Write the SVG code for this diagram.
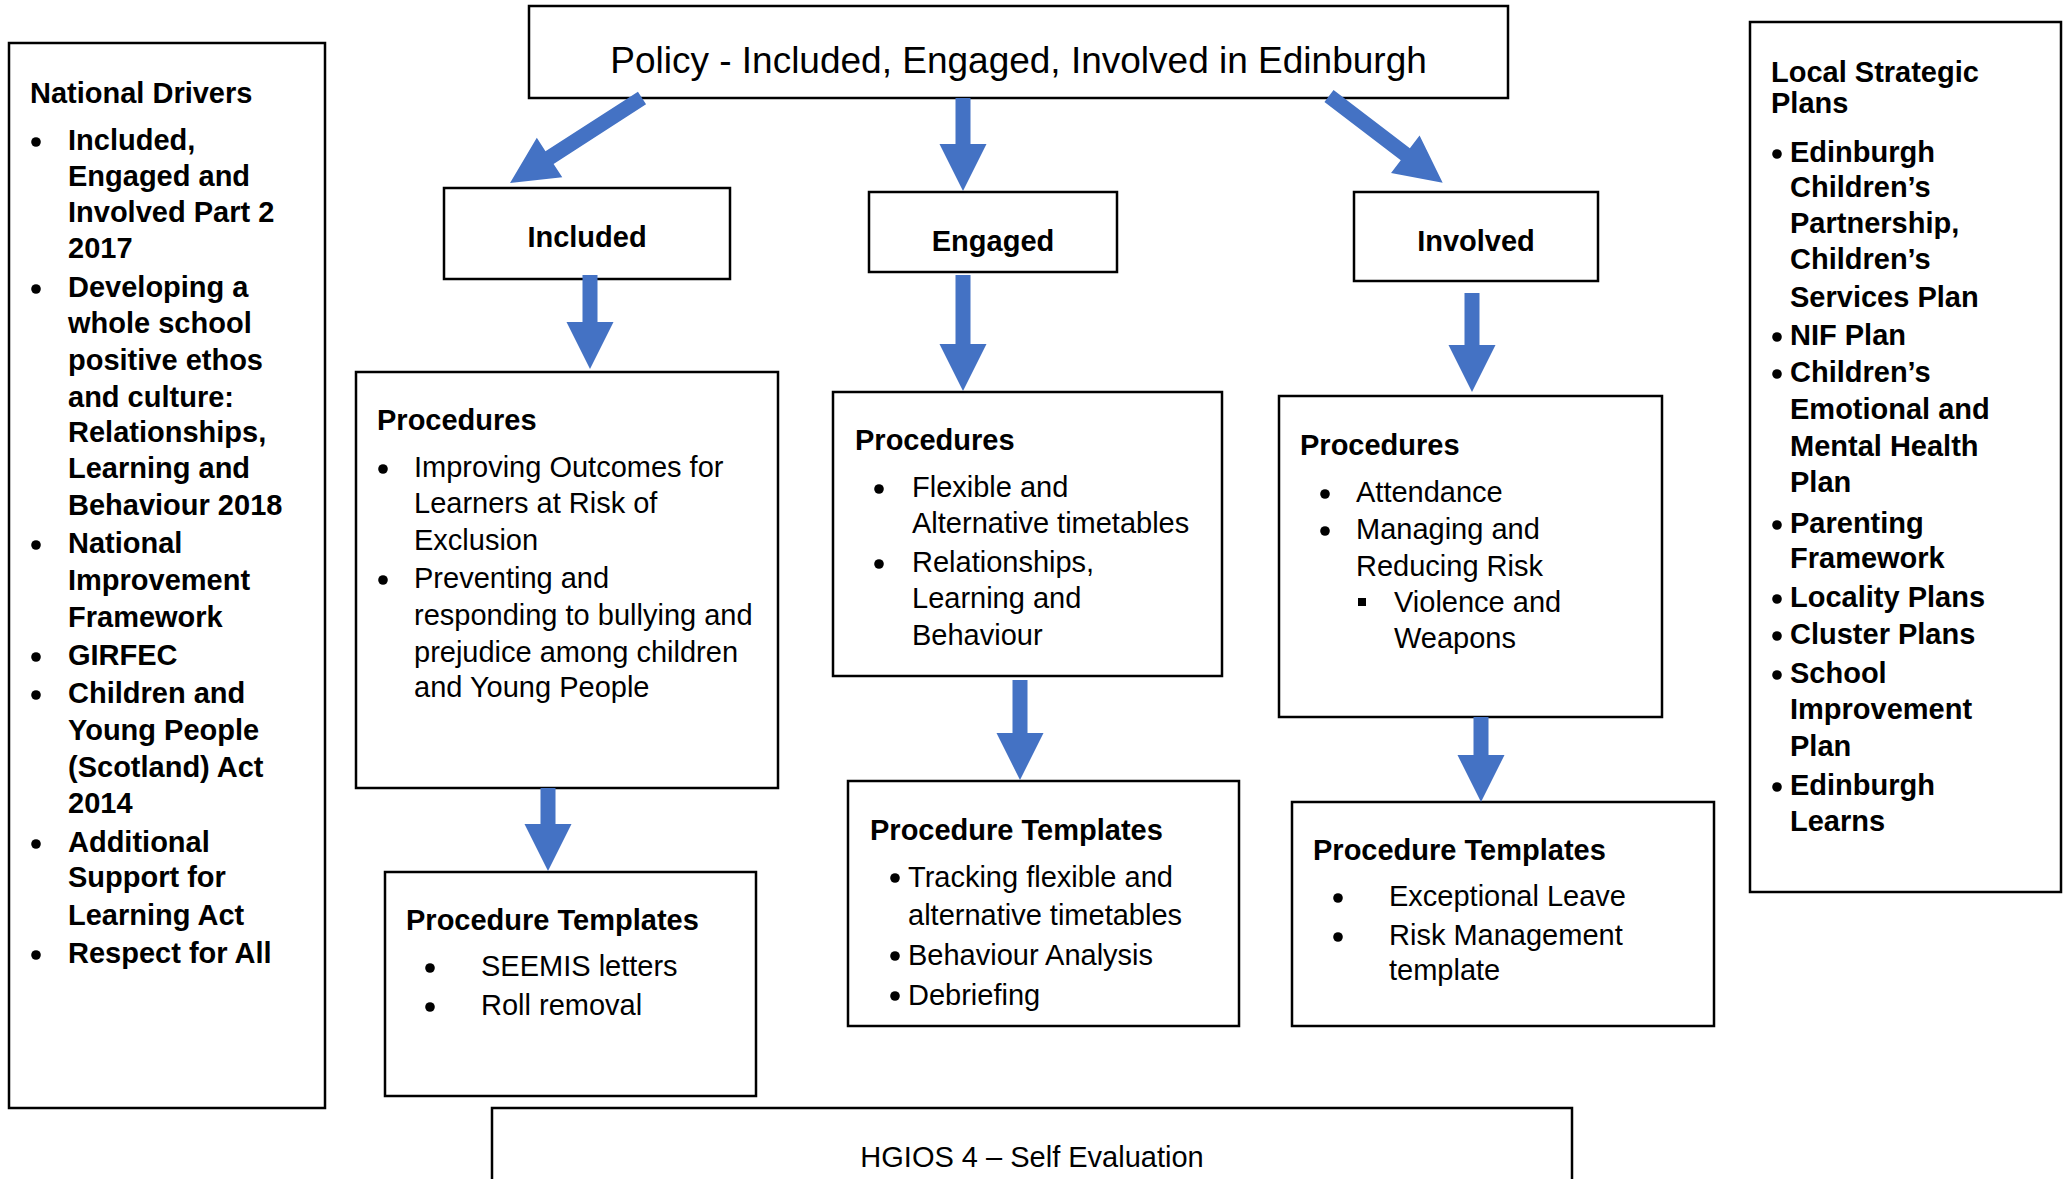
<svg xmlns="http://www.w3.org/2000/svg" width="2065" height="1179" viewBox="0 0 2065 1179">
  <style>
    .box { fill: #ffffff; stroke: #000000; stroke-width: 2.5; }
    .t { font-family: "Liberation Sans", Arial, sans-serif; font-size: 29px; fill: #000000; }
    .b { font-weight: bold; }
    .title { font-size: 37px; }
    .mid { text-anchor: middle; }
    .dot { fill: #000000; }
    .arrow { fill: #4472C4; }
  </style>
  <defs>
    <!-- list markers -->
    <circle id="dot" class="dot" cx="0" cy="0" r="4.8"/>
    <rect id="sqdot" class="dot" x="-4" y="-4" width="8" height="8"/>
  </defs>

  <!-- Background -->
  <rect x="0" y="0" width="2065" height="1179" fill="#ffffff"/>

  <!-- National drivers panel -->
  <g id="national-drivers">
    <rect class="box" x="9" y="43" width="316" height="1065"/>
    <use href="#dot" x="36" y="142"/>
    <use href="#dot" x="36" y="289"/>
    <use href="#dot" x="36" y="545"/>
    <use href="#dot" x="36" y="657"/>
    <use href="#dot" x="36" y="695"/>
    <use href="#dot" x="36" y="844"/>
    <use href="#dot" x="36" y="955"/>
    <text class="t b">
      <tspan x="30" y="103">National Drivers</tspan>
      <tspan x="68" y="150">Included,</tspan>
      <tspan x="68" y="186">Engaged and</tspan>
      <tspan x="68" y="222">Involved Part 2</tspan>
      <tspan x="68" y="258">2017</tspan>
      <tspan x="68" y="297">Developing a</tspan>
      <tspan x="68" y="333">whole school</tspan>
      <tspan x="68" y="370">positive ethos</tspan>
      <tspan x="68" y="407">and culture:</tspan>
      <tspan x="68" y="442">Relationships,</tspan>
      <tspan x="68" y="478">Learning and</tspan>
      <tspan x="68" y="515">Behaviour 2018</tspan>
      <tspan x="68" y="553">National</tspan>
      <tspan x="68" y="590">Improvement</tspan>
      <tspan x="68" y="627">Framework</tspan>
      <tspan x="68" y="665">GIRFEC</tspan>
      <tspan x="68" y="703">Children and</tspan>
      <tspan x="68" y="740">Young People</tspan>
      <tspan x="68" y="777">(Scotland) Act</tspan>
      <tspan x="68" y="813">2014</tspan>
      <tspan x="68" y="852">Additional</tspan>
      <tspan x="68" y="887">Support for</tspan>
      <tspan x="68" y="925">Learning Act</tspan>
      <tspan x="68" y="963">Respect for All</tspan>
    </text>
  </g>

  <!-- Local strategic plans panel -->
  <g id="local-plans">
    <rect class="box" x="1750" y="22" width="311" height="870"/>
    <use href="#dot" x="1777" y="154"/>
    <use href="#dot" x="1777" y="337"/>
    <use href="#dot" x="1777" y="374"/>
    <use href="#dot" x="1777" y="525"/>
    <use href="#dot" x="1777" y="599"/>
    <use href="#dot" x="1777" y="636"/>
    <use href="#dot" x="1777" y="675"/>
    <use href="#dot" x="1777" y="787"/>
    <text class="t b">
      <tspan x="1771" y="82">Local Strategic</tspan>
      <tspan x="1771" y="113">Plans</tspan>
      <tspan x="1790" y="162">Edinburgh</tspan>
      <tspan x="1790" y="197">Children’s</tspan>
      <tspan x="1790" y="233">Partnership,</tspan>
      <tspan x="1790" y="269">Children’s</tspan>
      <tspan x="1790" y="307">Services Plan</tspan>
      <tspan x="1790" y="345">NIF Plan</tspan>
      <tspan x="1790" y="382">Children’s</tspan>
      <tspan x="1790" y="419">Emotional and</tspan>
      <tspan x="1790" y="456">Mental Health</tspan>
      <tspan x="1790" y="492">Plan</tspan>
      <tspan x="1790" y="533">Parenting</tspan>
      <tspan x="1790" y="568">Framework</tspan>
      <tspan x="1790" y="607">Locality Plans</tspan>
      <tspan x="1790" y="644">Cluster Plans</tspan>
      <tspan x="1790" y="683">School</tspan>
      <tspan x="1790" y="719">Improvement</tspan>
      <tspan x="1790" y="756">Plan</tspan>
      <tspan x="1790" y="795">Edinburgh</tspan>
      <tspan x="1790" y="831">Learns</tspan>
    </text>
  </g>

  <!-- Policy heading -->
  <g id="policy">
    <rect class="box" x="529" y="6" width="979" height="92"/>
    <text class="t title mid" x="1018.5" y="73">Policy - Included, Engaged, Involved in Edinburgh</text>
  </g>

  <!-- Strands -->
  <g id="included">
    <rect class="box" x="444" y="188" width="286" height="91"/>
    <text class="t b mid" x="587" y="247">Included</text>
  </g>
  <g id="engaged">
    <rect class="box" x="869" y="192" width="248" height="80"/>
    <text class="t b mid" x="993" y="251">Engaged</text>
  </g>
  <g id="involved">
    <rect class="box" x="1354" y="192" width="244" height="89"/>
    <text class="t b mid" x="1476" y="251">Involved</text>
  </g>

  <!-- Procedures -->
  <g id="included-procedures">
    <rect class="box" x="356" y="372" width="422" height="416"/>
    <use href="#dot" x="383" y="469"/>
    <use href="#dot" x="383" y="580"/>
    <text class="t b" x="377" y="430">Procedures</text>
    <text class="t">
      <tspan x="414" y="477">Improving Outcomes for</tspan>
      <tspan x="414" y="513">Learners at Risk of</tspan>
      <tspan x="414" y="550">Exclusion</tspan>
      <tspan x="414" y="588">Preventing and</tspan>
      <tspan x="414" y="625">responding to bullying and</tspan>
      <tspan x="414" y="662">prejudice among children</tspan>
      <tspan x="414" y="697">and Young People</tspan>
    </text>
  </g>
  <g id="engaged-procedures">
    <rect class="box" x="833" y="392" width="389" height="284"/>
    <use href="#dot" x="879" y="489"/>
    <use href="#dot" x="879" y="564"/>
    <text class="t b" x="855" y="450">Procedures</text>
    <text class="t">
      <tspan x="912" y="497">Flexible and</tspan>
      <tspan x="912" y="533">Alternative timetables</tspan>
      <tspan x="912" y="572">Relationships,</tspan>
      <tspan x="912" y="608">Learning and</tspan>
      <tspan x="912" y="645">Behaviour</tspan>
    </text>
  </g>
  <g id="involved-procedures">
    <rect class="box" x="1279" y="396" width="383" height="321"/>
    <use href="#dot" x="1325" y="494"/>
    <use href="#dot" x="1325" y="531"/>
    <use href="#sqdot" x="1362" y="602"/>
    <text class="t b" x="1300" y="455">Procedures</text>
    <text class="t">
      <tspan x="1356" y="502">Attendance</tspan>
      <tspan x="1356" y="539">Managing and</tspan>
      <tspan x="1356" y="576">Reducing Risk</tspan>
      <tspan x="1394" y="612">Violence and</tspan>
      <tspan x="1394" y="648">Weapons</tspan>
    </text>
  </g>

  <!-- Procedure templates -->
  <g id="included-templates">
    <rect class="box" x="385" y="872" width="371" height="224"/>
    <use href="#dot" x="430" y="968"/>
    <use href="#dot" x="430" y="1007"/>
    <text class="t b" x="406" y="930">Procedure Templates</text>
    <text class="t">
      <tspan x="481" y="976">SEEMIS letters</tspan>
      <tspan x="481" y="1015">Roll removal</tspan>
    </text>
  </g>
  <g id="engaged-templates">
    <rect class="box" x="848" y="781" width="391" height="245"/>
    <use href="#dot" x="895" y="878"/>
    <use href="#dot" x="895" y="956"/>
    <use href="#dot" x="895" y="996"/>
    <text class="t b" x="870" y="840">Procedure Templates</text>
    <text class="t">
      <tspan x="908" y="887">Tracking flexible and</tspan>
      <tspan x="908" y="925">alternative timetables</tspan>
      <tspan x="908" y="965">Behaviour Analysis</tspan>
      <tspan x="908" y="1005">Debriefing</tspan>
    </text>
  </g>
  <g id="involved-templates">
    <rect class="box" x="1292" y="802" width="422" height="224"/>
    <use href="#dot" x="1338" y="898"/>
    <use href="#dot" x="1338" y="937"/>
    <text class="t b" x="1313" y="860">Procedure Templates</text>
    <text class="t">
      <tspan x="1389" y="906">Exceptional Leave</tspan>
      <tspan x="1389" y="945">Risk Management</tspan>
      <tspan x="1389" y="980">template</tspan>
    </text>
  </g>

  <!-- Self evaluation footer -->
  <g id="self-evaluation">
    <rect class="box" x="492" y="1108" width="1080" height="100"/>
    <text class="t mid" x="1032" y="1167">HGIOS 4 – Self Evaluation</text>
  </g>

  <!-- Block arrows -->
  <g id="connectors">
    <polygon class="arrow" transform="translate(642 98) rotate(147.2)" points="0,-7.5 110,-7.5 110,-23.5 157,0 110,23.5 110,7.5 0,7.5"/>
    <polygon class="arrow" points="955.5,98 970.5,98 970.5,144 986.5,144 963,191 939.5,144 955.5,144"/>
    <polygon class="arrow" transform="translate(1329 96) rotate(37.35)" points="0,-7.5 96,-7.5 96,-23.5 143,0 96,23.5 96,7.5 0,7.5"/>
    <polygon class="arrow" points="582.5,275 597.5,275 597.5,322 613.5,322 590,369 566.5,322 582.5,322"/>
    <polygon class="arrow" points="955.5,275 970.5,275 970.5,344 986.5,344 963,391 939.5,344 955.5,344"/>
    <polygon class="arrow" points="1464.5,293 1479.5,293 1479.5,345 1495.5,345 1472,392 1448.5,345 1464.5,345"/>
    <polygon class="arrow" points="540.5,788 555.5,788 555.5,824 571.5,824 548,871 524.5,824 540.5,824"/>
    <polygon class="arrow" points="1012.5,680 1027.5,680 1027.5,733 1043.5,733 1020,780 996.5,733 1012.5,733"/>
    <polygon class="arrow" points="1473.5,717 1488.5,717 1488.5,755 1504.5,755 1481,802 1457.5,755 1473.5,755"/>
  </g>
</svg>
